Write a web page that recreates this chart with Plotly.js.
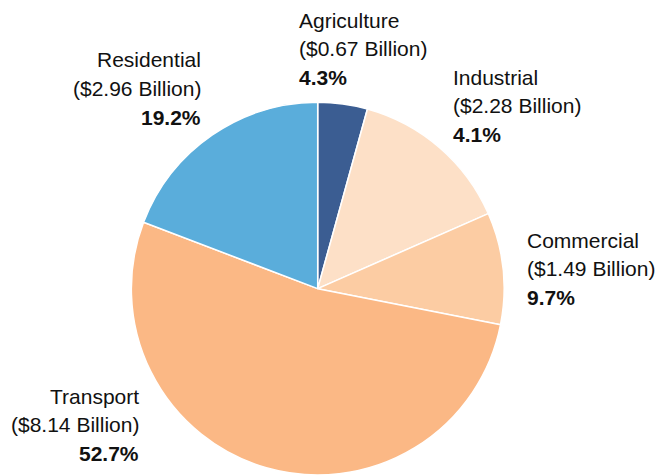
<!DOCTYPE html>
<html>
<head>
<meta charset="utf-8">
<script src="https://cdn.plot.ly/plotly-3.0.1.min.js"></script>
<style>html,body{margin:0;padding:0;background:#fff;}#chart{width:662px;height:475px;}</style>
</head>
<body>
<div id="chart"></div>
<script>
// ---- data ----
var sectors = ["Agriculture", "Industrial", "Commercial", "Transport", "Residential"];
var billions = ["$0.67", "$2.28", "$1.49", "$8.14", "$2.96"];
var shares = [4.3, 14.1, 9.7, 52.7, 19.2];           // slice sizes
var shareLabels = ["4.3%", "4.1%", "9.7%", "52.7%", "19.2%"]; // label text as printed

// ---- styles / layout ----
var colors = ["#3b5d92", "#fde0c7", "#fccca3", "#fbb885", "#5aaddb"];
var W = 662, H = 475;
// label anchor (pixel x of aligned edge, pixel baseline of first line), side
var labelPos = [
  {x: 298, y: 27, side: "left"},
  {x: 452, y: 84, side: "left"},
  {x: 526, y: 247, side: "left"},
  {x: 140, y: 403, side: "right"},
  {x: 202, y: 67, side: "right"}
];
var FS = 21, LINE = 28.7, BASE_OFF = 7;

var annotations = [];
sectors.forEach(function (s, i) {
  var lines = [s, "(" + billions[i] + " Billion)", "<b>" + shareLabels[i] + "</b>"];
  var p = labelPos[i];
  lines.forEach(function (t, k) {
    var yc = p.y + k * LINE - BASE_OFF;
    annotations.push({
      text: t, showarrow: false, xref: "paper", yref: "paper",
      x: p.x / W, y: 1 - yc / H,
      xanchor: p.side, yanchor: "middle", align: p.side,
      font: {family: "Liberation Sans, Arial, Helvetica, sans-serif", size: FS, color: "#111111"},
      borderpad: 0
    });
  });
});

var cx = 317.7, r = 187;
var trace = {
  type: "pie",
  labels: sectors,
  values: shares,
  sort: false,
  direction: "clockwise",
  rotation: 0,
  textinfo: "none",
  hoverinfo: "label+value",
  marker: {colors: colors, line: {color: "#ffffff", width: 1.5}},
  domain: {x: [(cx - r) / W, (cx + r) / W], y: [0, (H - 102.3) / H]},
  showlegend: false
};

var layout = {
  width: W, height: H,
  margin: {l: 0, r: 0, t: 0, b: 0},
  paper_bgcolor: "#ffffff",
  showlegend: false,
  annotations: annotations
};

Plotly.newPlot("chart", [trace], layout, {displayModeBar: false, staticPlot: true});
</script>
</body>
</html>
